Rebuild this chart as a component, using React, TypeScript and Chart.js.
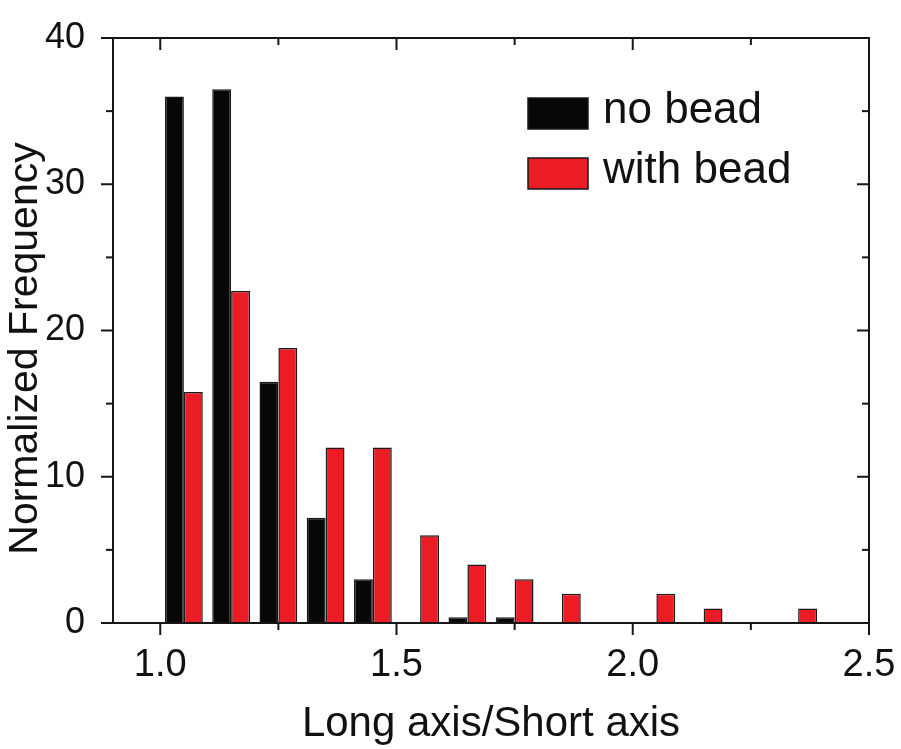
import { useEffect, useRef } from 'react';
import { Chart, registerables } from 'chart.js';

Chart.register(...registerables);

// ---- data ----
const binCenters = [1.05, 1.15, 1.25, 1.35, 1.45, 1.55, 1.65, 1.75, 1.85, 1.95, 2.05, 2.15, 2.25, 2.35];
const noBead = [36.0, 36.5, 16.5, 7.2, 3.0, 0, 0.4, 0.4, 0, 0, 0, 0, 0, 0];
const withBead = [15.8, 22.7, 18.8, 12.0, 12.0, 6.0, 4.0, 3.0, 2.0, 0, 2.0, 1.0, 0, 1.0];
const seriesLabels = ['no bead', 'with bead'];
const seriesColors = ['#070707', '#EC1C24'];
const xMajorTicks = [1.0, 1.5, 2.0, 2.5];
const xMinorTicks = [1.25, 1.75, 2.25];
const yMajorTicks = [0, 10, 20, 30, 40];
const yMinorTicks = [5, 15, 25, 35];
const xTitle = 'Long axis/Short axis';
const yTitle = 'Normalized Frequency';

const REG = '"Liberation Sans", Arial, Helvetica, sans-serif';
const INK = '#111111';

const framePlugin = {
  id: 'originFrame',
  afterDraw(chart: any) {
    const { ctx, chartArea } = chart;
    const { left, right, top, bottom } = chartArea;
    const xs = chart.scales.x;
    const ys = chart.scales.y;
    ctx.save();
    ctx.strokeStyle = '#161616';
    ctx.lineWidth = 2;
    ctx.strokeRect(left, top, right - left, bottom - top);
    const line = (x1: number, y1: number, x2: number, y2: number) => {
      ctx.beginPath();
      ctx.moveTo(x1, y1);
      ctx.lineTo(x2, y2);
      ctx.stroke();
    };
    // x ticks: bottom outward, top inward
    xMajorTicks.forEach((v) => {
      const p = xs.getPixelForValue(v);
      line(p, bottom, p, bottom + 12);
      line(p, top, p, top + 12);
    });
    xMinorTicks.forEach((v) => {
      const p = xs.getPixelForValue(v);
      line(p, bottom, p, bottom + 7);
      line(p, top, p, top + 7);
    });
    // y ticks: left outward, right inward
    yMajorTicks.forEach((v) => {
      const p = ys.getPixelForValue(v);
      line(left - 12, p, left, p);
      line(right - 12, p, right, p);
    });
    yMinorTicks.forEach((v) => {
      const p = ys.getPixelForValue(v);
      line(left - 7, p, left, p);
      line(right - 7, p, right, p);
    });

    // y axis title
    ctx.save();
    ctx.translate(26, (top + bottom) / 2 + 18);
    ctx.rotate(-Math.PI / 2);
    ctx.fillStyle = INK;
    ctx.font = '41px ' + REG;
    ctx.textAlign = 'center';
    ctx.textBaseline = 'middle';
    ctx.fillText(yTitle, 0, 0);
    ctx.restore();

    // legend
    const lx = 528;
    const rows = [98, 158];
    ctx.font = '44px ' + REG;
    ctx.textAlign = 'left';
    ctx.textBaseline = 'alphabetic';
    seriesLabels.forEach((lab, i) => {
      const y = rows[i];
      ctx.fillStyle = seriesColors[i];
      ctx.fillRect(lx, y, 60, 31);
      ctx.lineWidth = 1.5;
      ctx.strokeStyle = '#1a1a1a';
      ctx.strokeRect(lx, y, 60, 31);
      ctx.fillStyle = INK;
      ctx.fillText(lab, lx + 75, y + 25);
    });
    ctx.restore();
  },
};

export default function App() {
  const ref = useRef<HTMLCanvasElement>(null);
  useEffect(() => {
    const canvas = ref.current;
    if (!canvas) return;
    const chart = new Chart(canvas, {
      type: 'bar',
      data: {
        datasets: [
          {
            label: seriesLabels[0],
            data: binCenters.map((x, i) => ({ x, y: noBead[i] })),
            backgroundColor: seriesColors[0],
            borderColor: '#1a1a1a',
            borderWidth: 1.5,
            categoryPercentage: 0.8,
            barPercentage: 1.0,
          },
          {
            label: seriesLabels[1],
            data: binCenters.map((x, i) => ({ x, y: withBead[i] })),
            backgroundColor: seriesColors[1],
            borderColor: '#1a1a1a',
            borderWidth: 1.5,
            categoryPercentage: 0.8,
            barPercentage: 1.0,
          },
        ],
      } as any,
      options: {
        animation: false,
        responsive: false,
        layout: { padding: { top: 33, right: 32, left: 0, bottom: 0 } },
        plugins: {
          legend: { display: false },
          tooltip: { enabled: false },
        },
        scales: {
          x: {
            type: 'linear',
            min: 0.9,
            max: 2.5,
            offset: false,
            grid: { display: false },
            border: { display: false },
            afterBuildTicks: (s: any) => {
              s.ticks = xMajorTicks.map((v) => ({ value: v }));
            },
            afterFit: (s: any) => {
              s.height = 126;
            },
            ticks: {
              autoSkip: false,
              maxRotation: 0,
              padding: 0,
              color: INK,
              font: { family: REG, size: 38, lineHeight: 70 / 38 },
              callback: (v: any) => Number(v).toFixed(1),
            },
            title: {
              display: true,
              text: xTitle,
              color: INK,
              font: { family: REG, size: 42, lineHeight: 1 },
              padding: { top: 0, bottom: 4 },
            },
          },
          y: {
            min: 0,
            max: 40,
            grid: { display: false },
            border: { display: false },
            afterBuildTicks: (s: any) => {
              s.ticks = yMajorTicks.map((v) => ({ value: v }));
            },
            afterFit: (s: any) => {
              s.width = 113;
            },
            ticks: {
              padding: 20,
              color: INK,
              font: { family: REG, size: 36, lineHeight: 1 },
            },
          },
        },
      } as any,
      plugins: [framePlugin],
    });
    return () => chart.destroy();
  }, []);
  return (
    <canvas
      ref={ref}
      width={901}
      height={749}
      style={{ position: 'absolute', left: 0, top: 0, width: 901, height: 749, display: 'block' }}
    />
  );
}
